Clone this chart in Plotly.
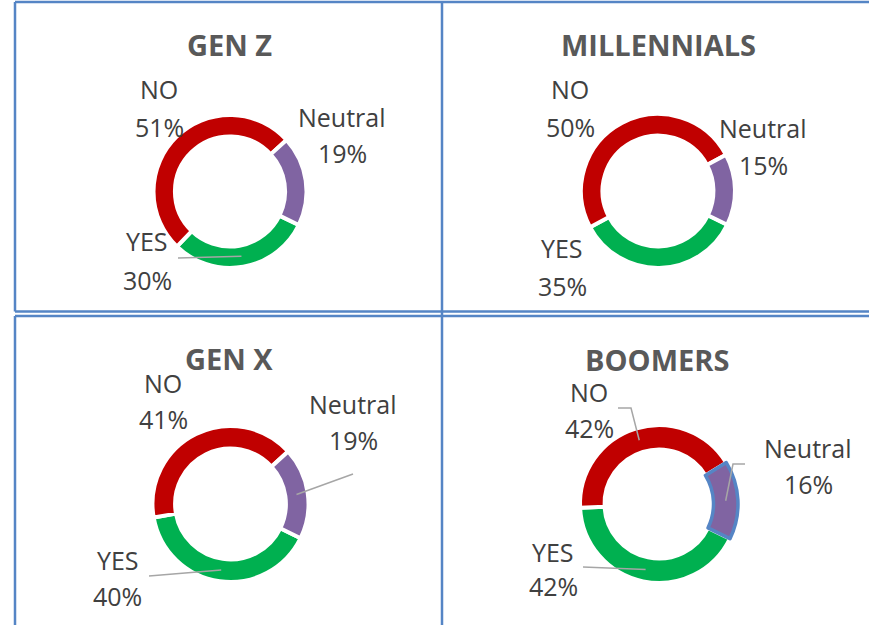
import math
import plotly.graph_objects as go

# survey answers per generation (percent)
groups = ["GEN Z", "MILLENNIALS", "GEN X", "BOOMERS"]
categories = ["YES", "NO", "Neutral"]
yes_pct = [30, 35, 40, 42]
no_pct = [51, 50, 41, 42]
neutral_pct = [19, 15, 19, 16]

COLORS = {"YES": "#00B050", "NO": "#C00000", "Neutral": "#8064A2"}
BORDER = "#5585C5"
LEADER = "#A6A6A6"

W, H = 869, 625
ROTATION = 116  # first slice (YES) angle, clockwise from 12 o'clock

# layout of each doughnut (pixel centre, outer radius, hole)
pie_cx = [230, 658, 230.5, 659]
pie_cy = [191.5, 191, 504, 504]
pie_r = [76.5, 77, 78, 79]
pie_hole = [0.72, 0.72, 0.71, 0.69]

title_pos = [(229, 45), (658, 45), (229, 358), (657, 359)]

# label block: x centre, name y, percent y
label_pos = [
    {"NO": (159, 89, 127), "Neutral": (342, 117, 153), "YES": (147, 241, 280)},
    {"NO": (570, 89, 127), "Neutral": (763, 128, 165), "YES": (562, 248, 286)},
    {"NO": (163, 383, 419), "Neutral": (353, 404, 440), "YES": (118, 560, 596)},
    {"NO": (589, 392, 428), "Neutral": (808, 448, 484), "YES": (553, 552, 586)},
]

# leader lines: label side points, the slice end is computed from the data
leaders = [
    (0, "YES", [(178, 258)]),
    (2, "Neutral", [(353, 474)]),
    (2, "YES", [(149, 576)]),
    (3, "NO", [(618, 408), (631, 408)]),
    (3, "Neutral", [(745, 464), (733, 464)]),
    (3, "YES", [(583, 567)]),
]


def fx(x):
    return x / W


def fy(y):
    return 1 - y / H


def slice_mid(i, cat):
    vals = [yes_pct[i], no_pct[i], neutral_pct[i]]
    k = categories.index(cat)
    total = sum(vals)
    frac = (sum(vals[:k]) + vals[k] / 2) / total
    ang = math.radians(ROTATION + 360 * frac)
    rmid = pie_r[i] * (1 + pie_hole[i]) / 2
    return pie_cx[i] + rmid * math.sin(ang), pie_cy[i] - rmid * math.cos(ang)


fig = go.Figure()
annotations = []
shapes = []

for i, g in enumerate(groups):
    vals = [yes_pct[i], no_pct[i], neutral_pct[i]]
    cx, cy, r = pie_cx[i], pie_cy[i], pie_r[i]
    line_colors = ["white", "white", "white"]
    line_widths = [4, 4, 4]
    if g == "BOOMERS":
        # selected slice outline as in the original screenshot
        line_colors[2] = BORDER
        line_widths[2] = 3.5
    fig.add_trace(go.Pie(
        labels=categories,
        values=vals,
        hole=pie_hole[i],
        sort=False,
        direction="clockwise",
        rotation=ROTATION,
        textinfo="none",
        hoverinfo="label+percent",
        marker=dict(colors=[COLORS[c] for c in categories],
                    line=dict(color=line_colors, width=line_widths)),
        domain=dict(x=[fx(cx - r), fx(cx + r)], y=[fy(cy + r), fy(cy - r)]),
        showlegend=False,
    ))

    tx, ty = title_pos[i]
    annotations.append(dict(
        x=fx(tx), y=fy(ty), xref="paper", yref="paper", showarrow=False,
        text=f"<b>{g}</b>", xanchor="center", yanchor="middle",
        font=dict(family="Open Sans", size=29, color="#595959"),
    ))

    for cat, v in zip(categories, vals):
        lx, ny, py_ = label_pos[i][cat]
        for txt, yy in ((cat, ny), (f"{v}%", py_)):
            annotations.append(dict(
                x=fx(lx), y=fy(yy), xref="paper", yref="paper", showarrow=False,
                text=txt, xanchor="center", yanchor="middle",
                font=dict(family="Open Sans", size=25, color="#404040"),
            ))

for i, cat, pts in leaders:
    ex, ey = slice_mid(i, cat)
    all_pts = pts + [(ex, ey)]
    path = "M " + " L ".join(f"{fx(x)},{fy(y)}" for x, y in all_pts)
    shapes.append(dict(type="path", path=path, xref="paper", yref="paper",
                       line=dict(color=LEADER, width=1.5)))

# panel borders
border_lines = [
    ((15, 2), (W, 2)),
    ((15, 2), (15, 311.5)),
    ((15, 311.5), (W, 311.5)),
    ((15, 316), (W, 316)),
    ((15, 316), (15, H)),
    ((442, 2), (442, H)),
]
for (x0, y0), (x1, y1) in border_lines:
    shapes.append(dict(type="line", xref="paper", yref="paper",
                       x0=fx(x0), y0=fy(y0), x1=fx(x1), y1=fy(y1),
                       line=dict(color=BORDER, width=2.5)))

fig.update_layout(
    width=W,
    height=H,
    margin=dict(l=0, r=0, t=0, b=0),
    paper_bgcolor="white",
    plot_bgcolor="white",
    annotations=annotations,
    shapes=shapes,
)

# drop the default page margin so the figure fills the window exactly
fig.write_html(
    "out.html",
    config={"displayModeBar": False},
    post_script="document.body.style.margin='0';document.body.style.overflow='hidden';",
)
